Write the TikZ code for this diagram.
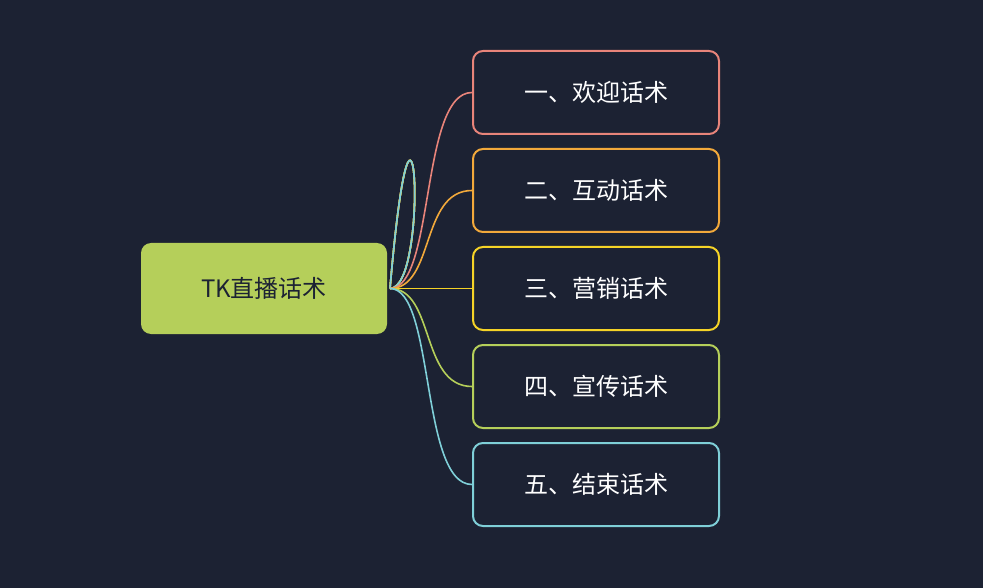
\documentclass[tikz,border=0pt]{standalone}
\usepackage{fontspec}
\setmainfont{Noto Sans CJK SC}
\definecolor{bg}{HTML}{1C2233}
\definecolor{rootc}{HTML}{B5CF5A}
\definecolor{c1}{HTML}{E8847A}
\definecolor{c2}{HTML}{F2A93B}
\definecolor{c3}{HTML}{F5D327}
\definecolor{c4}{HTML}{B5CF5A}
\definecolor{c5}{HTML}{7FCFD8}
\begin{document}
\begin{tikzpicture}[x=1pt,y=-1pt,
  kid/.style={draw=#1,line width=2pt,rounded corners=10pt,minimum width=246pt,minimum height=83pt,text=white,font=\fontsize{24}{28}\selectfont,fill=bg},
  link/.style={draw=#1,line width=1.6pt}]
\fill[bg] (0,0) rectangle (983,588);
\useasboundingbox (0,0) rectangle (983,588);
\node[fill=rootc,rounded corners=10pt,minimum width=246pt,minimum height=91pt,text=bg,font=\fontsize{24}{28}\selectfont] (root) at (264,288.5) {TK直播话术};
\coordinate (o) at (390,288.5);
\node[kid=c1] (k1) at (596,92.5) {一、欢迎话术};
\node[kid=c2] (k2) at (596,190.5) {二、互动话术};
\node[kid=c3] (k3) at (596,288.5) {三、营销话术};
\node[kid=c4] (k4) at (596,386.5) {四、宣传话术};
\node[kid=c5] (k5) at (596,484.5) {五、结束话术};
\foreach \i/\c in {1/c1,2/c2,3/c3,4/c4,5/c5}{
  \draw[link=\c] (o) .. controls (430,288.5) and (415,{0+0}) .. (o);
}
\draw[link=c1] (o) .. controls (435,288.5) and (420,92.5) .. (k1.west);
\draw[link=c2] (o) .. controls (435,288.5) and (420,190.5) .. (k2.west);
\draw[link=c3] (o) -- (k3.west);
\draw[link=c4] (o) .. controls (435,288.5) and (420,386.5) .. (k4.west);
\draw[link=c5] (o) .. controls (435,288.5) and (420,484.5) .. (k5.west);
\end{tikzpicture}
\end{document}
